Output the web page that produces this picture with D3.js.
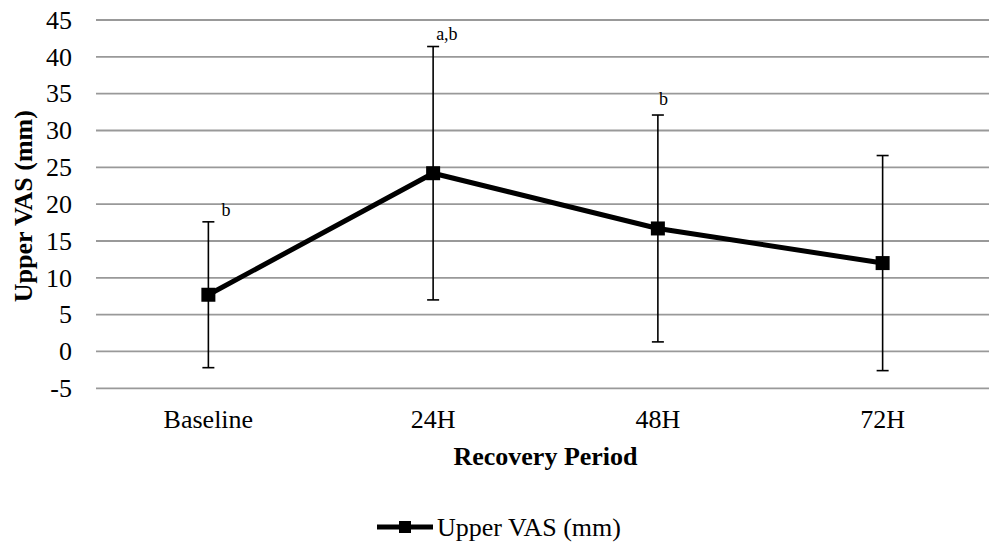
<!DOCTYPE html>
<html>
<head>
<meta charset="utf-8">
<script src="https://cdn.jsdelivr.net/npm/d3@7/dist/d3.min.js"></script>
<style>
  html, body { margin: 0; padding: 0; background: #fff; }
  svg { display: block; }
  svg text { font-family: "Liberation Serif", "Times New Roman", serif !important; fill: #000; }
</style>
</head>
<body>
<svg id="chart" width="989" height="546"></svg>
<script>
// Recovery time points
const categories = ["Baseline", "24H", "48H", "72H"];
// Mean Upper VAS (mm) at each time point
const means = [7.7, 24.2, 16.7, 12.0];
// Standard deviation (error bar half-length)
const errors = [9.9, 17.2, 15.4, 14.6];
// Significance letters placed above the error bars
const sigLabels = ["b", "a,b", "b", ""];
// Y axis ticks
const yTicks = [-5, 0, 5, 10, 15, 20, 25, 30, 35, 40, 45];
const seriesName = "Upper VAS (mm)";

const FONT = "'Liberation Serif', 'Times New Roman', serif";
const svg = d3.select("#chart");
const plot = { left: 96, right: 995, top: 20, bottom: 388.3 };

const x = d3.scaleBand()
  .domain(categories)
  .range([plot.left, plot.right])
  .paddingInner(0).paddingOuter(0);
const cx = d => x(d) + x.bandwidth() / 2;

const y = d3.scaleLinear()
  .domain([d3.min(yTicks), d3.max(yTicks)])
  .range([plot.bottom, plot.top]);

// Horizontal gridlines
svg.append("g")
  .selectAll("line")
  .data(yTicks)
  .join("line")
  .attr("x1", plot.left)
  .attr("x2", plot.right)
  .attr("y1", d => y(d))
  .attr("y2", d => y(d))
  .attr("stroke", "#999")
  .attr("stroke-width", 1.8);

// Y axis tick labels (plain hyphen for negatives)
const yAxis = d3.axisLeft(y).tickValues(yTicks).tickSize(0).tickPadding(0).tickFormat(d => String(d));
const yg = svg.append("g").attr("transform", `translate(${72},0)`).call(yAxis);
yg.attr("font-family", FONT);
yg.select(".domain").remove();
yg.selectAll("text")
  .style("font-family", FONT)
  .attr("font-size", 26)
  .attr("dy", "0.32em")
  .attr("fill", "#000");

// X axis category labels
const xAxis = d3.axisBottom(x).tickSize(0).tickPadding(0);
const xg = svg.append("g").attr("transform", `translate(0,${405})`).call(xAxis);
xg.attr("font-family", FONT);
xg.select(".domain").remove();
xg.selectAll("text")
  .style("font-family", FONT)
  .attr("font-size", 26)
  .attr("dy", "0.9em")
  .attr("fill", "#000");

// Axis titles
svg.append("text")
  .attr("x", (plot.left + plot.right) / 2)
  .attr("y", 465)
  .attr("text-anchor", "middle")
  .style("font-family", FONT)
  .attr("font-size", 26)
  .attr("font-weight", "bold")
  .text("Recovery Period");

svg.append("text")
  .attr("transform", `translate(32,${(plot.top + plot.bottom) / 2 + 2}) rotate(-90)`)
  .attr("text-anchor", "middle")
  .style("font-family", FONT)
  .attr("font-size", 26)
  .attr("font-weight", "bold")
  .text("Upper VAS (mm)");

const pts = categories.map((c, i) => ({ c, m: means[i], e: errors[i], lab: sigLabels[i] }));

// Error bars
const eb = svg.append("g").attr("stroke", "#000").attr("stroke-width", 1.6);
pts.forEach(p => {
  const px = cx(p.c);
  eb.append("line").attr("x1", px).attr("x2", px).attr("y1", y(p.m + p.e)).attr("y2", y(p.m - p.e));
  eb.append("line").attr("x1", px - 6).attr("x2", px + 6).attr("y1", y(p.m + p.e)).attr("y2", y(p.m + p.e));
  eb.append("line").attr("x1", px - 6).attr("x2", px + 6).attr("y1", y(p.m - p.e)).attr("y2", y(p.m - p.e));
});

// Mean line
const line = d3.line().x(d => cx(d.c)).y(d => y(d.m));
svg.append("path")
  .datum(pts)
  .attr("d", line)
  .attr("fill", "none")
  .attr("stroke", "#000")
  .attr("stroke-width", 5)
  .attr("stroke-linejoin", "miter");

// Square markers
const ms = 14;
svg.append("g").selectAll("rect")
  .data(pts)
  .join("rect")
  .attr("x", d => cx(d.c) - ms / 2)
  .attr("y", d => y(d.m) - ms / 2)
  .attr("width", ms)
  .attr("height", ms)
  .attr("fill", "#000");

// Significance letters
const labelNudge = [13, 3, 1, 0];
const labelRise = [6, 7, 10, 0];
svg.append("g").selectAll("text")
  .data(pts)
  .join("text")
  .attr("x", (d, i) => cx(d.c) + labelNudge[i])
  .attr("y", (d, i) => y(d.m + d.e) - labelRise[i])
  .style("font-family", FONT)
  .attr("font-size", 18)
  .text(d => d.lab);

// Legend
const lg = svg.append("g").attr("transform", "translate(377,527)");
lg.append("line").attr("x1", 0).attr("x2", 56).attr("y1", 0).attr("y2", 0)
  .attr("stroke", "#000").attr("stroke-width", 5);
lg.append("rect").attr("x", 28 - 6).attr("y", -6).attr("width", 12).attr("height", 12).attr("fill", "#000");
lg.append("text").attr("x", 60).attr("y", 0).attr("dy", "0.33em")
  .style("font-family", FONT)
  .attr("font-size", 26).text(seriesName);
</script>
</body>
</html>
